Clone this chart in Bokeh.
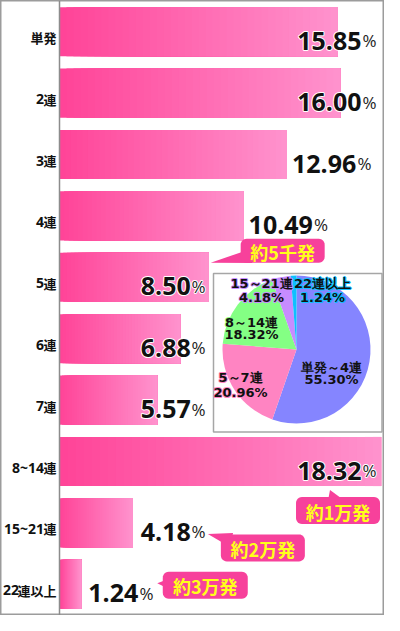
import math
from bokeh.plotting import figure
from bokeh.models import Range1d, Span, ColumnDataSource
from bokeh.core.properties import value
from bokeh.embed import file_html
from bokeh.resources import INLINE

# ---------------- data ----------------
categories = ["単発", "2連", "3連", "4連", "5連", "6連", "7連", "8~14連", "15~21連", "22連以上"]
shares = [15.85, 16.00, 12.96, 10.49, 8.50, 6.88, 5.57, 18.32, 4.18, 1.24]

callout_rows = ["5連", "8~14連", "15~21連", "22連以上"]
callout_texts = ["約5千発", "約1万発", "約2万発", "約3万発"]

pie_labels = ["単発～4連", "5～7連", "8～14連", "15～21連", "22連以上"]
pie_shares = [55.30, 20.96, 18.32, 4.18, 1.24]

# ---------------- style / layout ----------------
W, H = 384, 615
AXIS_PX = 59.0
PX_PER_PCT = 17.55
ROW_PX = 61.4
FIRST_ROW_PX = 31.2
BAR_FRAC = 0.8
N_SLICES = 40
BAR_C0 = (255, 68, 152)
BAR_C1 = (255, 146, 205)
NUM_FONT = value("Open Sans")
CJK_FONT = value("Noto Sans CJK JP")
NUM_SIZE = 25
PCT_SIZE = 17
CALLOUT_COLOR = "#f7419b"
CALLOUT_TEXT = "#ffff1a"
pie_colors = ["#8585ff", "#ff84c2", "#84ff84", "#c78cff", "#0dc0ff"]
PIE_CENTER_PX = (296, 349)
PIE_R = 74
PIE_BOX_PX = (213, 273, 381.5, 431.6)
# pie label placement: (dx, dy line1, dy line2) relative to pie centre, px
pie_label_pos = [(35, 17.5, 30), (-56, 28, 43), (-45, -27.5, -15), (-35, -66, -52), (26, -66, -52)]
# callout placement relative to bar end / row centre (px): tip offset, box centre offset, box w, h
callout_geom = [((2, -14.5), (74, -26.5), 84, 24),
                ((-51, 28.5), (-43, 49), 84, 27),
                ((75, 11), (130, 25), 84, 27),
                ((76, -1), (124, 1), 85, 27)]

n = len(categories)
x_start = -AXIS_PX / PX_PER_PCT
x_end = (W - AXIS_PX) / PX_PER_PCT
y_top = (n - 1) + FIRST_ROW_PX / ROW_PX
y_bot = (n - 1) - (H - FIRST_ROW_PX) / ROW_PX


def px2x(px):
    return x_start + px / PX_PER_PCT


def px2y(py):
    return y_top - py / ROW_PX


def x2px(x):
    return (x - x_start) * PX_PER_PCT


def y2px(y):
    return (y_top - y) * ROW_PX


row_y = [n - 1 - i for i in range(n)]

p = figure(width=W, height=H, output_backend="svg", toolbar_location=None,
           x_range=Range1d(x_start, x_end), y_range=Range1d(y_bot, y_top),
           x_axis_location=None, y_axis_location=None, title=None,
           min_border=0, background_fill_color="white", border_fill_color="white")
p.grid.visible = False
p.outline_line_color = "#9c9c9c"
p.outline_line_width = 2


def outlined_text(outline, **kw):
    """Draw text with an outline: an outline layer underneath, plain fill on top."""
    if outline is not None:
        under = dict(kw)
        under["text_color"] = outline
        p.text(text_outline_color=outline, **under)
    p.text(**kw)


# ---- gradient bars ----
bx, bl, br, bc = [], [], [], []
for y, v in zip(row_y, shares):
    for k in range(N_SLICES):
        t = k / (N_SLICES - 1)
        col = tuple(int(round(a + (b - a) * t)) for a, b in zip(BAR_C0, BAR_C1))
        bx.append(y)
        bl.append(v * k / N_SLICES)
        br.append(v)
        bc.append("#%02x%02x%02x" % col)
p.hbar(y=bx, left=bl, right=br, height=BAR_FRAC, fill_color=bc, line_color=None)

p.add_layout(Span(location=0, dimension="height", line_color="#8c8c8c", line_width=1.5))

# ---- category labels ----
KAN_SIZE = 13
lab_x = px2x(56)
dig_t, dig_y, dig_off, kan_t, kan_y = [], [], [], [], []
for y, c in zip(row_y, categories):
    j = 0
    while j < len(c) and ord(c[j]) < 128:
        j += 1
    dig, kan = c[:j], c[j:]
    kan_t.append(kan)
    kan_y.append(y)
    if dig:
        dig_t.append(dig)
        dig_y.append(y)
        dig_off.append(-(KAN_SIZE - 0.5) * len(kan))
p.text(x=[lab_x] * len(kan_t), y=kan_y, text=kan_t, text_font=CJK_FONT,
       text_font_size="%dpx" % KAN_SIZE, text_font_style="bold", text_color="#111111",
       text_align="right", text_baseline="alphabetic", y_offset=6)
p.text(x=[lab_x] * len(dig_t), y=dig_y, text=dig_t, x_offset=dig_off, text_font=NUM_FONT,
       text_font_size="14px", text_font_style="bold", text_color="#111111",
       text_align="right", text_baseline="alphabetic", y_offset=6)

# ---- value labels ----
def num_width(s):
    return sum((0.29 if ch == "." else 0.572) * NUM_SIZE for ch in s)


PCT_W = 0.82 * PCT_SIZE
ref_mid = shares[categories.index("5連")]
num_src = dict(x=[], y=[], text=[], align=[], off=[])
pct_src = dict(x=[], y=[], text=[], align=[], off=[])
for y, v in zip(row_y, shares):
    s = "%.2f" % v
    if v >= 15:
        X, mode = px2x(W - 8), "right"
    elif v >= 9:
        X, mode = v + 5 / PX_PER_PCT, "left"
    elif v >= 4:
        X, mode = ref_mid - 3 / PX_PER_PCT, "right"
    else:
        X, mode = v + 7 / PX_PER_PCT, "left"
    if mode == "right":
        num_src["off"].append(-(PCT_W + 1))
        pct_src["off"].append(0)
    else:
        num_src["off"].append(0)
        pct_src["off"].append(num_width(s) + 1)
    for d, t in ((num_src, s), (pct_src, "%")):
        d["x"].append(X)
        d["y"].append(y)
        d["text"].append(t)
        d["align"].append(mode)
num_cds = ColumnDataSource(num_src)
pct_cds = ColumnDataSource(pct_src)
outlined_text("white", x="x", y="y", text="text", x_offset="off", text_align="align",
              source=num_cds, text_font=NUM_FONT, text_font_size="%dpx" % NUM_SIZE,
              text_font_style="bold", text_color="#111111", text_baseline="alphabetic",
              y_offset=9)
outlined_text("white", x="x", y="y", text="text", x_offset="off", text_align="align",
              source=pct_cds, text_font=NUM_FONT, text_font_size="%dpx" % PCT_SIZE,
              text_color="#222222", text_baseline="alphabetic", y_offset=9)

# ---- pie inset ----
bx0, by0, bx1, by1 = PIE_BOX_PX
p.quad(left=[px2x(bx0)], right=[px2x(bx1)], top=[px2y(by0)], bottom=[px2y(by1)],
       fill_color="white", line_color="#a6a6a6", line_width=1.5)
cx, cy = px2x(PIE_CENTER_PX[0]), px2y(PIE_CENTER_PX[1])
tot = sum(pie_shares)
cum = 0.0
starts, ends = [], []
for s in pie_shares:
    a0 = math.pi / 2 - 2 * math.pi * (cum + s) / tot
    a1 = math.pi / 2 - 2 * math.pi * cum / tot
    starts.append(a0)
    ends.append(a1)
    cum += s
p.wedge(x=[cx] * len(pie_shares), y=[cy] * len(pie_shares), radius=PIE_R, radius_units="screen",
        start_angle=starts, end_angle=ends, direction="anticlock",
        fill_color=pie_colors, line_color=None)
for (lbl, s, col, (dx, dy1, dy2)) in zip(pie_labels, pie_shares, pie_colors, pie_label_pos):
    for t, dy in ((lbl, dy1), ("%.2f%%" % s, dy2)):
        outlined_text(col, x=[cx], y=[cy], text=[t], x_offset=dx, y_offset=dy,
                      text_align="center", text_baseline="middle",
                      text_font=value("DejaVu Sans"), text_font_size="13px",
                      text_font_style="bold", text_color="#111111")

# ---- callouts ----
def rounded_box(cxp, cyp, w, h, r, seg=6):
    pts = []
    corners = [(cxp + w / 2 - r, cyp - h / 2 + r, -90), (cxp + w / 2 - r, cyp + h / 2 - r, 0),
               (cxp - w / 2 + r, cyp + h / 2 - r, 90), (cxp - w / 2 + r, cyp - h / 2 + r, 180)]
    for (ox, oy, a0) in corners:
        for k in range(seg + 1):
            a = math.radians(a0 + 90 * k / seg)
            pts.append((ox + r * math.cos(a), oy + r * math.sin(a)))
    return pts


tri_xs, tri_ys, box_xs, box_ys, ct_x, ct_y = [], [], [], [], [], []
for row, geom in zip(callout_rows, callout_geom):
    i = categories.index(row)
    ex, ey = x2px(shares[i]), y2px(row_y[i])
    (tdx, tdy), (bdx, bdy), w, h = geom
    tx, ty = ex + tdx, ey + tdy
    bcx, bcy = ex + bdx, ey + bdy
    dx, dy = tx - bcx, ty - bcy
    L = math.hypot(dx, dy)
    tt = min((w / 2) / abs(dx) if dx else 1e9, (h / 2) / abs(dy) if dy else 1e9) * 0.75
    mx, my = bcx + dx * tt, bcy + dy * tt
    ux, uy = -dy / L, dx / L
    tri = [(tx, ty), (mx + 7 * ux, my + 7 * uy), (mx - 7 * ux, my - 7 * uy)]
    tri_xs.append([px2x(a) for a, b in tri])
    tri_ys.append([px2y(b) for a, b in tri])
    pts = rounded_box(bcx, bcy, w, h, 6)
    box_xs.append([px2x(a) for a, b in pts])
    box_ys.append([px2y(b) for a, b in pts])
    ct_x.append(px2x(bcx))
    ct_y.append(px2y(bcy))
p.patches(xs=tri_xs, ys=tri_ys, fill_color=CALLOUT_COLOR, line_color=None)
p.patches(xs=box_xs, ys=box_ys, fill_color=CALLOUT_COLOR, line_color=None)
p.text(x=ct_x, y=ct_y, text=callout_texts, text_align="center", text_baseline="middle",
       text_font=CJK_FONT, text_font_size="18px", text_font_style="bold", text_color=CALLOUT_TEXT,
       y_offset=1)

open("out.html", "w").write(file_html(p, INLINE))
